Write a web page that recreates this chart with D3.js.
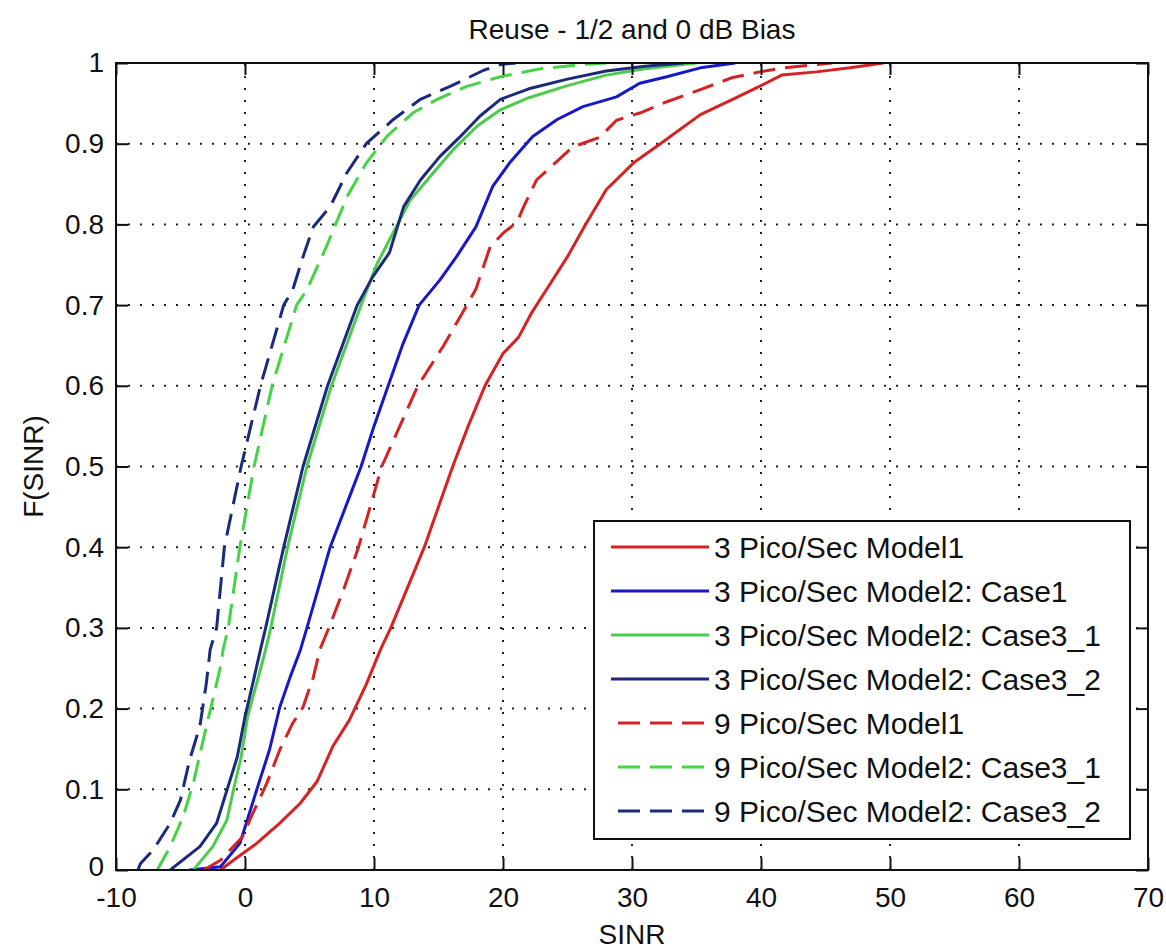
<!doctype html>
<html>
<head>
<meta charset="utf-8">
<title>Reuse - 1/2 and 0 dB Bias</title>
<script src="https://cdn.jsdelivr.net/npm/d3@7"></script>
<style>
  body { margin: 0; background: #fff; }
  svg text { font-family: "Liberation Sans", Arial, sans-serif; fill: #111; }
</style>
</head>
<body>
<script>
const pico3Model1 = [[-1.9,0],[-0.9,0.012],[0.9,0.033],[2.7,0.058],[4.3,0.083],[5.6,0.11],[6.8,0.153],[8.1,0.186],[9.4,0.23],[10.5,0.273],[11.3,0.3],[12.6,0.35],[13.9,0.4],[15,0.45],[16.1,0.5],[17.3,0.55],[18.6,0.6],[20,0.64],[21.2,0.66],[22.2,0.69],[23.4,0.72],[25,0.76],[26.4,0.8],[28,0.843],[30.1,0.876],[32.2,0.9],[35.3,0.936],[37.8,0.955],[40,0.972],[41.6,0.985],[44.3,0.989],[46.9,0.994],[49.5,1]];
const pico3Case1 = [[-4.3,0],[-1.9,0.004],[-0.4,0.033],[0.1,0.058],[0.9,0.099],[1.9,0.149],[2.7,0.202],[3.5,0.239],[4.3,0.273],[4.8,0.3],[5.7,0.35],[6.6,0.4],[7.8,0.45],[9,0.5],[10,0.55],[11.1,0.6],[12.2,0.65],[13.5,0.7],[15.1,0.731],[16.4,0.76],[17.9,0.797],[19.2,0.847],[20.5,0.876],[22.3,0.909],[24.2,0.93],[26.2,0.946],[28.8,0.958],[30.6,0.975],[32.7,0.983],[35.3,0.994],[38,1]];
const pico3Case3_1 = [[-4,0],[-2.5,0.029],[-1.4,0.062],[-0.9,0.099],[-0.3,0.14],[0.2,0.19],[0.9,0.231],[1.6,0.273],[2,0.3],[3.3,0.4],[4.8,0.5],[6.7,0.6],[9,0.7],[10.2,0.75],[11.2,0.781],[12.8,0.83],[14.6,0.864],[16.1,0.892],[18,0.922],[19.8,0.942],[22,0.957],[25,0.972],[28,0.985],[31,0.993],[35,1]];
const pico3Case3_2 = [[-5.8,0],[-3.5,0.029],[-2.2,0.058],[-1.4,0.099],[-0.6,0.14],[0,0.19],[0.6,0.231],[1.2,0.273],[1.6,0.3],[3,0.4],[4.5,0.5],[6.4,0.6],[8.7,0.7],[9.9,0.735],[11.2,0.765],[12.3,0.822],[13.6,0.855],[15.1,0.884],[16.7,0.909],[18.2,0.934],[19.8,0.955],[22,0.968],[25,0.98],[28,0.99],[31,0.996],[34,1]];
const pico9Model1 = [[-3.2,0],[-1.9,0.012],[-0.2,0.041],[0.6,0.07],[1.7,0.108],[2.7,0.149],[3.7,0.182],[4.5,0.202],[5.3,0.239],[5.8,0.273],[6.5,0.3],[7.7,0.35],[8.8,0.4],[9.7,0.45],[10.6,0.5],[12,0.55],[13.4,0.6],[15.4,0.65],[17.2,0.7],[17.9,0.72],[19,0.772],[20,0.789],[21.1,0.803],[21.6,0.822],[22.6,0.855],[23.9,0.874],[25.4,0.896],[27.5,0.908],[28.8,0.929],[30.6,0.938],[32.7,0.952],[35.3,0.967],[37.8,0.982],[39.9,0.989],[41.7,0.994],[44.3,0.998],[45.5,1]];
const pico9Case3_1 = [[-6.8,0],[-5.8,0.029],[-4.8,0.066],[-4,0.108],[-3.3,0.157],[-2.5,0.211],[-1.9,0.252],[-1.7,0.273],[-1.3,0.3],[-0.4,0.4],[0.7,0.5],[2.1,0.6],[4,0.7],[4.8,0.719],[6.3,0.772],[7.9,0.834],[9.4,0.876],[11,0.909],[13,0.938],[14.9,0.955],[17.2,0.971],[19.8,0.983],[23,0.993],[26,0.998],[28,1]];
const pico9Case3_2 = [[-8.3,0],[-8.1,0.008],[-7.1,0.025],[-5.8,0.058],[-5,0.087],[-4.3,0.136],[-3.5,0.178],[-3,0.231],[-2.7,0.273],[-2.2,0.3],[-1.6,0.4],[-0.3,0.5],[1.2,0.6],[3,0.7],[3.7,0.719],[4.5,0.76],[5.3,0.797],[6.6,0.822],[7.9,0.864],[9.4,0.9],[11.5,0.93],[13.6,0.955],[15.9,0.971],[18.5,0.991],[19.8,0.998],[21,1]];

const seriesNames = [
  "3 Pico/Sec Model1",
  "3 Pico/Sec Model2: Case1",
  "3 Pico/Sec Model2: Case3_1",
  "3 Pico/Sec Model2: Case3_2",
  "9 Pico/Sec Model1",
  "9 Pico/Sec Model2: Case3_1",
  "9 Pico/Sec Model2: Case3_2"
];
const xTicks = [-10, 0, 10, 20, 30, 40, 50, 60, 70];
const xTickLabels = ["-10", "0", "10", "20", "30", "40", "50", "60", "70"];
const yTicks = [0, 0.1, 0.2, 0.3, 0.4, 0.5, 0.6, 0.7, 0.8, 0.9, 1];
const yTickLabels = ["0", "0.1", "0.2", "0.3", "0.4", "0.5", "0.6", "0.7", "0.8", "0.9", "1"];

const width = 1166;
const height = 950;
const margin = {top: 63, right: 18, bottom: 80, left: 116};

const series = [
  {values: pico3Model1, color: "#d62222", dash: null},
  {values: pico3Case1, color: "#1818c8", dash: null},
  {values: pico3Case3_1, color: "#4ccb4c", dash: null},
  {values: pico3Case3_2, color: "#1c2a7c", dash: null},
  {values: pico9Model1, color: "#d62222", dash: "22,10"},
  {values: pico9Case3_1, color: "#45d445", dash: "22,10"},
  {values: pico9Case3_2, color: "#1c2a7c", dash: "22,10"}
].map((d, i) => ({...d, name: seriesNames[i]}));

const x = d3.scaleLinear()
    .domain([-10, 70])
    .range([margin.left, width - margin.right]);

const y = d3.scaleLinear()
    .domain([0, 1])
    .range([height - margin.bottom, margin.top]);

const svg = d3.select("body").append("svg")
    .attr("width", width)
    .attr("height", height)
    .attr("font-size", 28);

svg.append("clipPath")
    .attr("id", "plot")
  .append("rect")
    .attr("x", x(-10))
    .attr("y", y(1))
    .attr("width", x(70) - x(-10))
    .attr("height", y(0) - y(1));

// dotted grid
const grid = svg.append("g")
    .attr("stroke", "#222")
    .attr("stroke-width", 2)
    .attr("stroke-dasharray", "2,10");

grid.selectAll("line.gx")
  .data(xTicks.slice(1, -1))
  .join("line")
    .attr("class", "gx")
    .attr("x1", (d) => x(d))
    .attr("x2", (d) => x(d))
    .attr("y1", y(0))
    .attr("y2", y(1));

grid.selectAll("line.gy")
  .data(yTicks.slice(1, -1))
  .join("line")
    .attr("class", "gy")
    .attr("x1", x(-10))
    .attr("x2", x(70))
    .attr("y1", (d) => y(d))
    .attr("y2", (d) => y(d));

// curves
const line = d3.line()
    .x((d) => x(d[0]))
    .y((d) => y(d[1]));

svg.append("g")
    .attr("clip-path", "url(#plot)")
    .attr("fill", "none")
    .attr("stroke-width", 3)
    .attr("stroke-linejoin", "round")
  .selectAll("path")
  .data(series)
  .join("path")
    .attr("stroke", (d) => d.color)
    .attr("stroke-dasharray", (d) => d.dash)
    .attr("d", (d) => line(d.values));

// axes, ticks on all four sides pointing in
const tickLen = 12;

svg.append("g")
    .attr("transform", `translate(0,${y(0)})`)
    .call(d3.axisBottom(x).tickValues(xTicks).tickSizeInner(-tickLen).tickSizeOuter(0).tickPadding(17)
      .tickFormat((d, i) => xTickLabels[i]))
    .call((g) => g.select(".domain").remove());

svg.append("g")
    .attr("transform", `translate(0,${y(1)})`)
    .call(d3.axisTop(x).tickValues(xTicks).tickSizeInner(-tickLen).tickSizeOuter(0).tickFormat(""))
    .call((g) => g.select(".domain").remove());

const yAxis = svg.append("g")
    .attr("transform", `translate(${x(-10)},0)`)
    .call(d3.axisLeft(y).tickValues(yTicks).tickSizeInner(-tickLen).tickSizeOuter(0).tickPadding(12)
      .tickFormat((d, i) => yTickLabels[i]))
    .call((g) => g.select(".domain").remove());

svg.append("g")
    .attr("transform", `translate(${x(70)},0)`)
    .call(d3.axisRight(y).tickValues(yTicks).tickSizeInner(-tickLen).tickSizeOuter(0).tickFormat(""))
    .call((g) => g.select(".domain").remove());

svg.selectAll(".tick line")
    .attr("stroke", "#111")
    .attr("stroke-width", 2);

svg.selectAll(".tick text")
    .attr("font-size", 28)
    .attr("font-family", null)
    .attr("fill", "#111");

// lift the bottom-left "0" a little so it clears "-10"
yAxis.selectAll(".tick text")
  .filter((d) => d === 0)
    .attr("dy", "0.2em");

svg.append("rect")
    .attr("x", x(-10))
    .attr("y", y(1))
    .attr("width", x(70) - x(-10))
    .attr("height", y(0) - y(1))
    .attr("fill", "none")
    .attr("stroke", "#111")
    .attr("stroke-width", 2);

// legend
const legendX = 594, legendY = 521, legendW = 536, legendH = 318, rowH = 44;

const legend = svg.append("g");

legend.append("rect")
    .attr("x", legendX)
    .attr("y", legendY)
    .attr("width", legendW)
    .attr("height", legendH)
    .attr("fill", "#fff")
    .attr("stroke", "#111")
    .attr("stroke-width", 2);

const row = legend.selectAll("g")
  .data(series)
  .join("g")
    .attr("transform", (d, i) => `translate(${legendX},${legendY + 26 + i * rowH})`);

row.append("line")
    .attr("x1", (d) => d.dash ? 24 : 17)
    .attr("x2", 115)
    .attr("stroke", (d) => d.color)
    .attr("stroke-width", 3)
    .attr("stroke-dasharray", (d) => d.dash);

row.append("text")
    .attr("x", 120)
    .attr("dy", "0.36em")
    .attr("font-size", 30)
    .text((d) => d.name);

// titles
svg.append("text")
    .attr("x", (x(-10) + x(70)) / 2)
    .attr("y", 39)
    .attr("text-anchor", "middle")
    .attr("font-size", 28)
    .text("Reuse - 1/2 and 0 dB Bias");

svg.append("text")
    .attr("x", (x(-10) + x(70)) / 2)
    .attr("y", 944)
    .attr("text-anchor", "middle")
    .attr("font-size", 28)
    .text("SINR");

svg.append("text")
    .attr("transform", `translate(43,${(y(0) + y(1)) / 2}) rotate(-90)`)
    .attr("text-anchor", "middle")
    .attr("font-size", 28)
    .text("F(SINR)");
</script>
</body>
</html>
